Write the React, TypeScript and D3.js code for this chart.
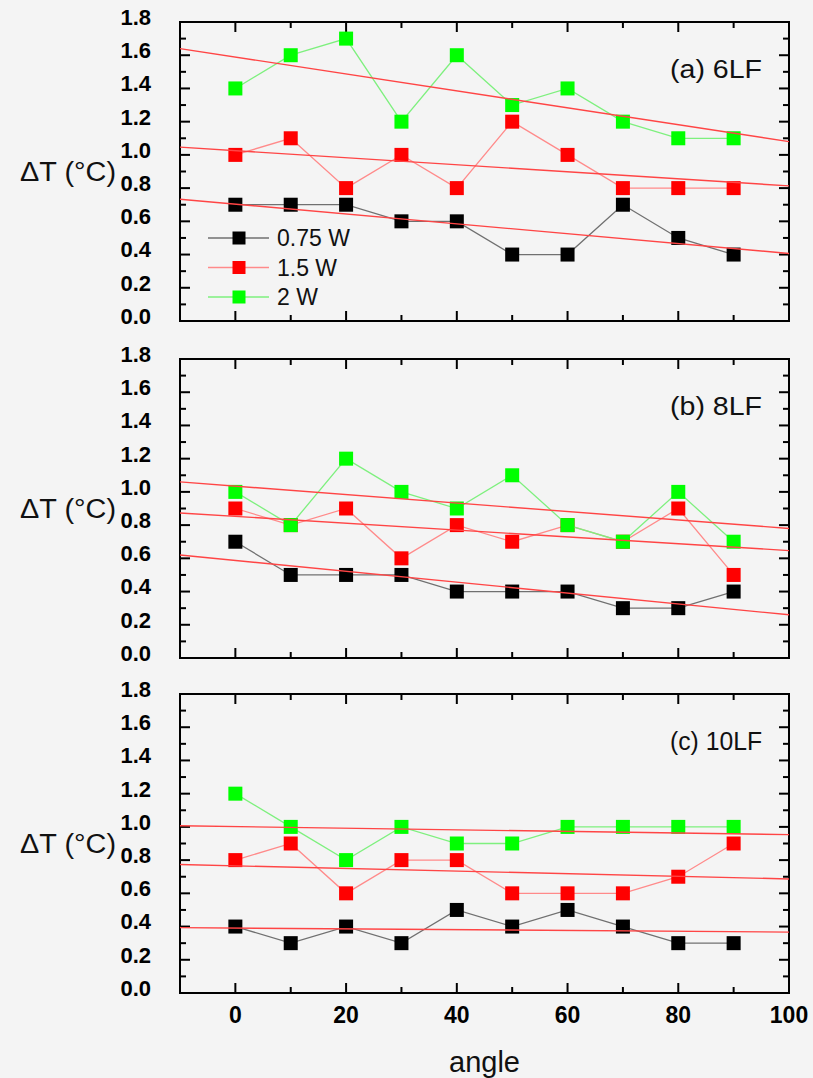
import React from 'react'
import * as d3 from 'd3'

// angle values (x)
const angles = [0, 10, 20, 30, 40, 50, 60, 70, 80, 90]
const seriesNames = ['0.75 W', '1.5 W', '2 W']
const panelLabels = ['(a) 6LF', '(b) 8LF', '(c) 10LF']

// (a) 6LF
const lf6W075 = [0.7, 0.7, 0.7, 0.6, 0.6, 0.4, 0.4, 0.7, 0.5, 0.4]
const lf6W15 = [1.0, 1.1, 0.8, 1.0, 0.8, 1.2, 1.0, 0.8, 0.8, 0.8]
const lf6W2 = [1.4, 1.6, 1.7, 1.2, 1.6, 1.3, 1.4, 1.2, 1.1, 1.1]

// (b) 8LF
const lf8W075 = [0.7, 0.5, 0.5, 0.5, 0.4, 0.4, 0.4, 0.3, 0.3, 0.4]
const lf8W15 = [0.9, 0.8, 0.9, 0.6, 0.8, 0.7, 0.8, 0.7, 0.9, 0.5]
const lf8W2 = [1.0, 0.8, 1.2, 1.0, 0.9, 1.1, 0.8, 0.7, 1.0, 0.7]

// (c) 10LF
const lf10W075 = [0.4, 0.3, 0.4, 0.3, 0.5, 0.4, 0.5, 0.4, 0.3, 0.3]
const lf10W15 = [0.8, 0.9, 0.6, 0.8, 0.8, 0.6, 0.6, 0.6, 0.7, 0.9]
const lf10W2 = [1.2, 1.0, 0.8, 1.0, 0.9, 0.9, 1.0, 1.0, 1.0, 1.0]

const xTickLabels = [0, 20, 40, 60, 80, 100]
const yTickLabels = [0, 0.2, 0.4, 0.6, 0.8, 1.0, 1.2, 1.4, 1.6, 1.8]

const panels = [
  { label: panelLabels[0], series: [lf6W075, lf6W15, lf6W2] },
  { label: panelLabels[1], series: [lf8W075, lf8W15, lf8W2] },
  { label: panelLabels[2], series: [lf10W075, lf10W15, lf10W2] },
]

const markerColors = ['#000000', '#ff0000', '#00ff00']
const lineColors = ['#707070', '#ff8a8a', '#7ef07e']
const fitColor = '#ff4545'
const bg = '#f4f4f4'
const font = '"Liberation Sans", Arial, sans-serif'

// least squares line
function linFit(xs: number[], ys: number[]) {
  const mx = d3.mean(xs) as number
  const my = d3.mean(ys) as number
  let sxy = 0, sxx = 0
  xs.forEach((xv, i) => {
    sxy += (xv - mx) * (ys[i] - my)
    sxx += (xv - mx) * (xv - mx)
  })
  const b = sxy / sxx
  return (xv: number) => my + b * (xv - mx)
}

export default function App() {
  const W = 813, H = 1078
  const left = 180, right = 789
  const panelTops = [22, 359, 694]
  const panelH = 299
  const ms = 14

  const x = d3.scaleLinear().domain([-10, 100]).range([left, right])
  const xMinor = d3.range(-10, 101, 10)
  const yMinor = d3.range(0, 19).map(d => d / 10)

  return (
    <svg width={W} height={H} style={{ position: 'absolute', left: 0, top: 0 }} fontFamily={font}>
      <rect width={W} height={H} fill={bg} />
      {panels.map((p, pi) => {
        const top = panelTops[pi]
        const bottom = top + panelH
        const y = d3.scaleLinear().domain([0, 1.8]).range([bottom, top])
        const line = d3.line<number>().x((d, i) => x(angles[i])).y(d => y(d))
        return (
          <g key={pi}>
            {/* ticks */}
            {xMinor.filter(v => v > -10 && v < 100).map(v => {
              const len = v % 20 === 0 ? 10 : 6
              return (
                <g key={'xt' + v} stroke="#000" strokeWidth={2}>
                  <line x1={x(v)} x2={x(v)} y1={bottom} y2={bottom - len} />
                  <line x1={x(v)} x2={x(v)} y1={top} y2={top + len} />
                </g>
              )
            })}
            {yMinor.filter((v, i) => i > 0 && i < 18).map((v, i) => {
              const len = (i + 1) % 2 === 0 ? 10 : 6
              return (
                <g key={'yt' + i} stroke="#000" strokeWidth={2}>
                  <line x1={left} x2={left + len} y1={y(v)} y2={y(v)} />
                  <line x1={right} x2={right - len} y1={y(v)} y2={y(v)} />
                </g>
              )
            })}
            <rect x={left} y={top} width={right - left} height={panelH} fill="none" stroke="#000" strokeWidth={2} />
            {yTickLabels.map(v => (
              <text key={'yl' + v} x={151} y={y(v) - 5} dy="0.36em" textAnchor="end"
                fontSize={22} fontWeight="bold" fill="#000">{v.toFixed(1)}</text>
            ))}
            <text x={20} y={(top + bottom) / 2} dy="0.36em" fontSize={27}
              textLength={96} lengthAdjust="spacingAndGlyphs" fill="#111">ΔT (°C)</text>
            <text x={762} y={top + 56} textAnchor="end" fontSize={25}
              textLength={92} lengthAdjust="spacingAndGlyphs" fill="#111">{p.label}</text>

            {/* data */}
            {p.series.map((vals, si) => (
              <g key={'s' + si}>
                <path d={line(vals) || ''} fill="none" stroke={lineColors[si]} strokeWidth={1.3} />
                {vals.map((v, i) => (
                  <rect key={i} x={x(angles[i]) - ms / 2} y={y(v) - ms / 2} width={ms} height={ms}
                    fill={markerColors[si]} />
                ))}
              </g>
            ))}
            {/* linear fits */}
            {p.series.map((vals, si) => {
              const f = linFit(angles, vals)
              return (
                <line key={'f' + si} x1={x(-10)} x2={x(100)} y1={y(f(-10))} y2={y(f(100))}
                  stroke={fitColor} strokeWidth={1.4} />
              )
            })}

            {pi === 0 && seriesNames.map((name, si) => {
              const ly = 238 + si * 29.5
              return (
                <g key={'lg' + si}>
                  <line x1={208} x2={269} y1={ly} y2={ly} stroke={lineColors[si]} strokeWidth={1.3} />
                  <rect x={239 - 6.5} y={ly - 6.5} width={13} height={13} fill={markerColors[si]} />
                  <text x={277} y={ly} dy="0.36em" fontSize={23} fill="#111">{name}</text>
                </g>
              )
            })}
          </g>
        )
      })}
      {xTickLabels.map(v => (
        <text key={'xl' + v} x={x(v)} y={1015} dy="0.36em" textAnchor="middle"
          fontSize={23} fontWeight="bold" fill="#000">{v}</text>
      ))}
      <text x={(left + right) / 2} y={1062} dy="0.36em" textAnchor="middle" fontSize={29} fill="#111">angle</text>
    </svg>
  )
}
